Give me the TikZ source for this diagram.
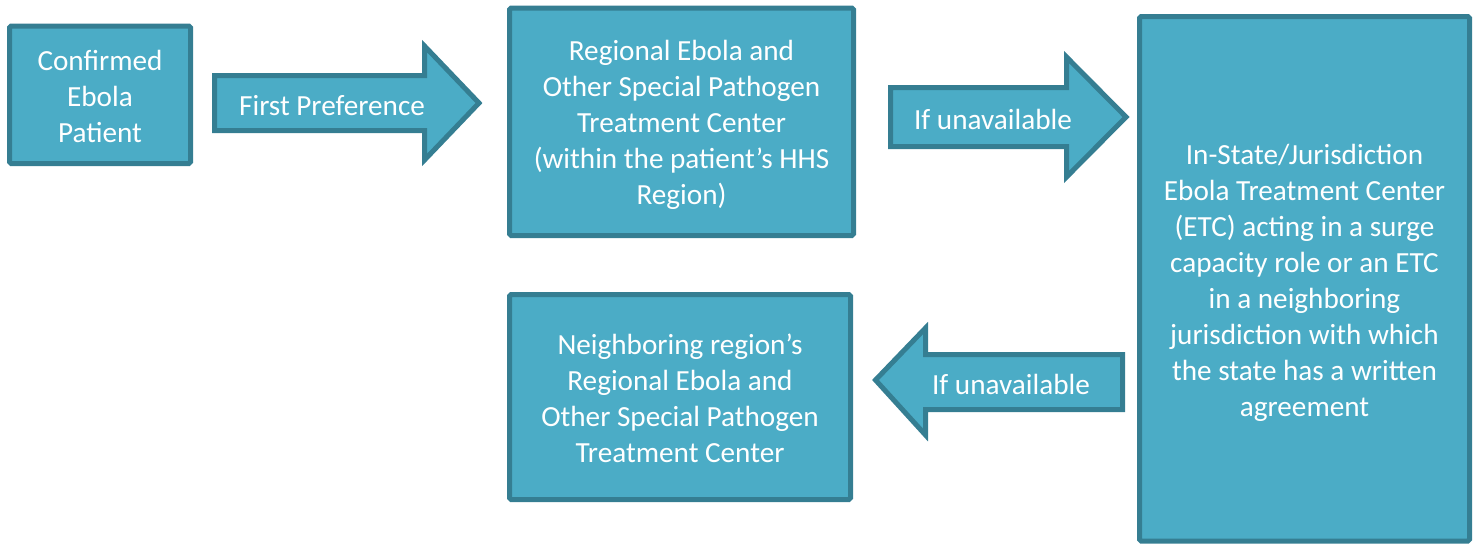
\documentclass[tikz,border=0pt]{standalone}
\usepackage{fontspec}
\setmainfont{Carlito}
\definecolor{aquafill}{HTML}{4BACC6}
\definecolor{aquaedge}{HTML}{357E92}
\begin{document}
\begin{tikzpicture}[x=0.5pt,y=-0.5pt,
  box/.style={draw=aquaedge, fill=aquafill, line width=2.5pt, rounded corners=0.8pt,
    inner sep=0pt},
  boxtext/.style={text=white, align=center, inner sep=0pt,
    font=\fontsize{14.6}{18}\selectfont},
  blockarrow/.style={draw=aquaedge, fill=aquafill, line width=2.5pt, line join=miter},
  arrowlabel/.style={text=white, inner sep=0pt, font=\fontsize{14.6}{18}\selectfont}]
\useasboundingbox (0,0) rectangle (1478,543);

% boxes
\node[box, minimum width=90.5pt, minimum height=68.75pt] (patient) at (100,94.75) {};
\node[boxtext] (patienttext) at ([yshift=-1pt]patient.center)
  {Confirmed\\Ebola\\Patient};

\node[box, minimum width=172pt, minimum height=113.75pt] (regional) at (681.5,121.75) {};
\node[boxtext] (regionaltext) at ([yshift=-1.75pt]regional.center)
  {Regional Ebola and\\Other Special Pathogen\\Treatment Center\\(within the patient’s HHS\\Region)};

\node[box, minimum width=165pt, minimum height=262.25pt] (instate) at (1304.5,278.75) {};
\node[boxtext] (instatetext) at ([yshift=-2.25pt]instate.center)
  {In-State/Jurisdiction\\Ebola Treatment Center\\(ETC) acting in a surge\\capacity role or an ETC\\in a neighboring\\jurisdiction with which\\the state has a written\\agreement};

\node[box, minimum width=170.5pt, minimum height=102.5pt] (neighbor) at (680,397) {};
\node[boxtext] (neighbortext) at ([yshift=-0.5pt]neighbor.center)
  {Neighboring region’s\\Regional Ebola and\\Other Special Pathogen\\Treatment Center};

% block arrows
\draw[blockarrow] (214.5,75.5) -- (424.5,75.5) -- (424.5,46) -- (479,103)
  -- (424.5,160) -- (424.5,130.5) -- (214.5,130.5) -- cycle;
\node[arrowlabel] (first) at (332,106) {First Preference};

\draw[blockarrow] (890.5,87.5) -- (1066.5,87.5) -- (1066.5,57) -- (1126,117)
  -- (1066.5,177) -- (1066.5,146.5) -- (890.5,146.5) -- cycle;
\node[arrowlabel] (unavail1) at (993,119) {If unavailable};

\draw[blockarrow] (875.5,380) -- (925.5,328) -- (925.5,354.5) -- (1122.5,354.5)
  -- (1122.5,409.5) -- (925.5,409.5) -- (925.5,435) -- cycle;
\node[arrowlabel] (unavail2) at (1011,384) {If unavailable};
\end{tikzpicture}
\end{document}
